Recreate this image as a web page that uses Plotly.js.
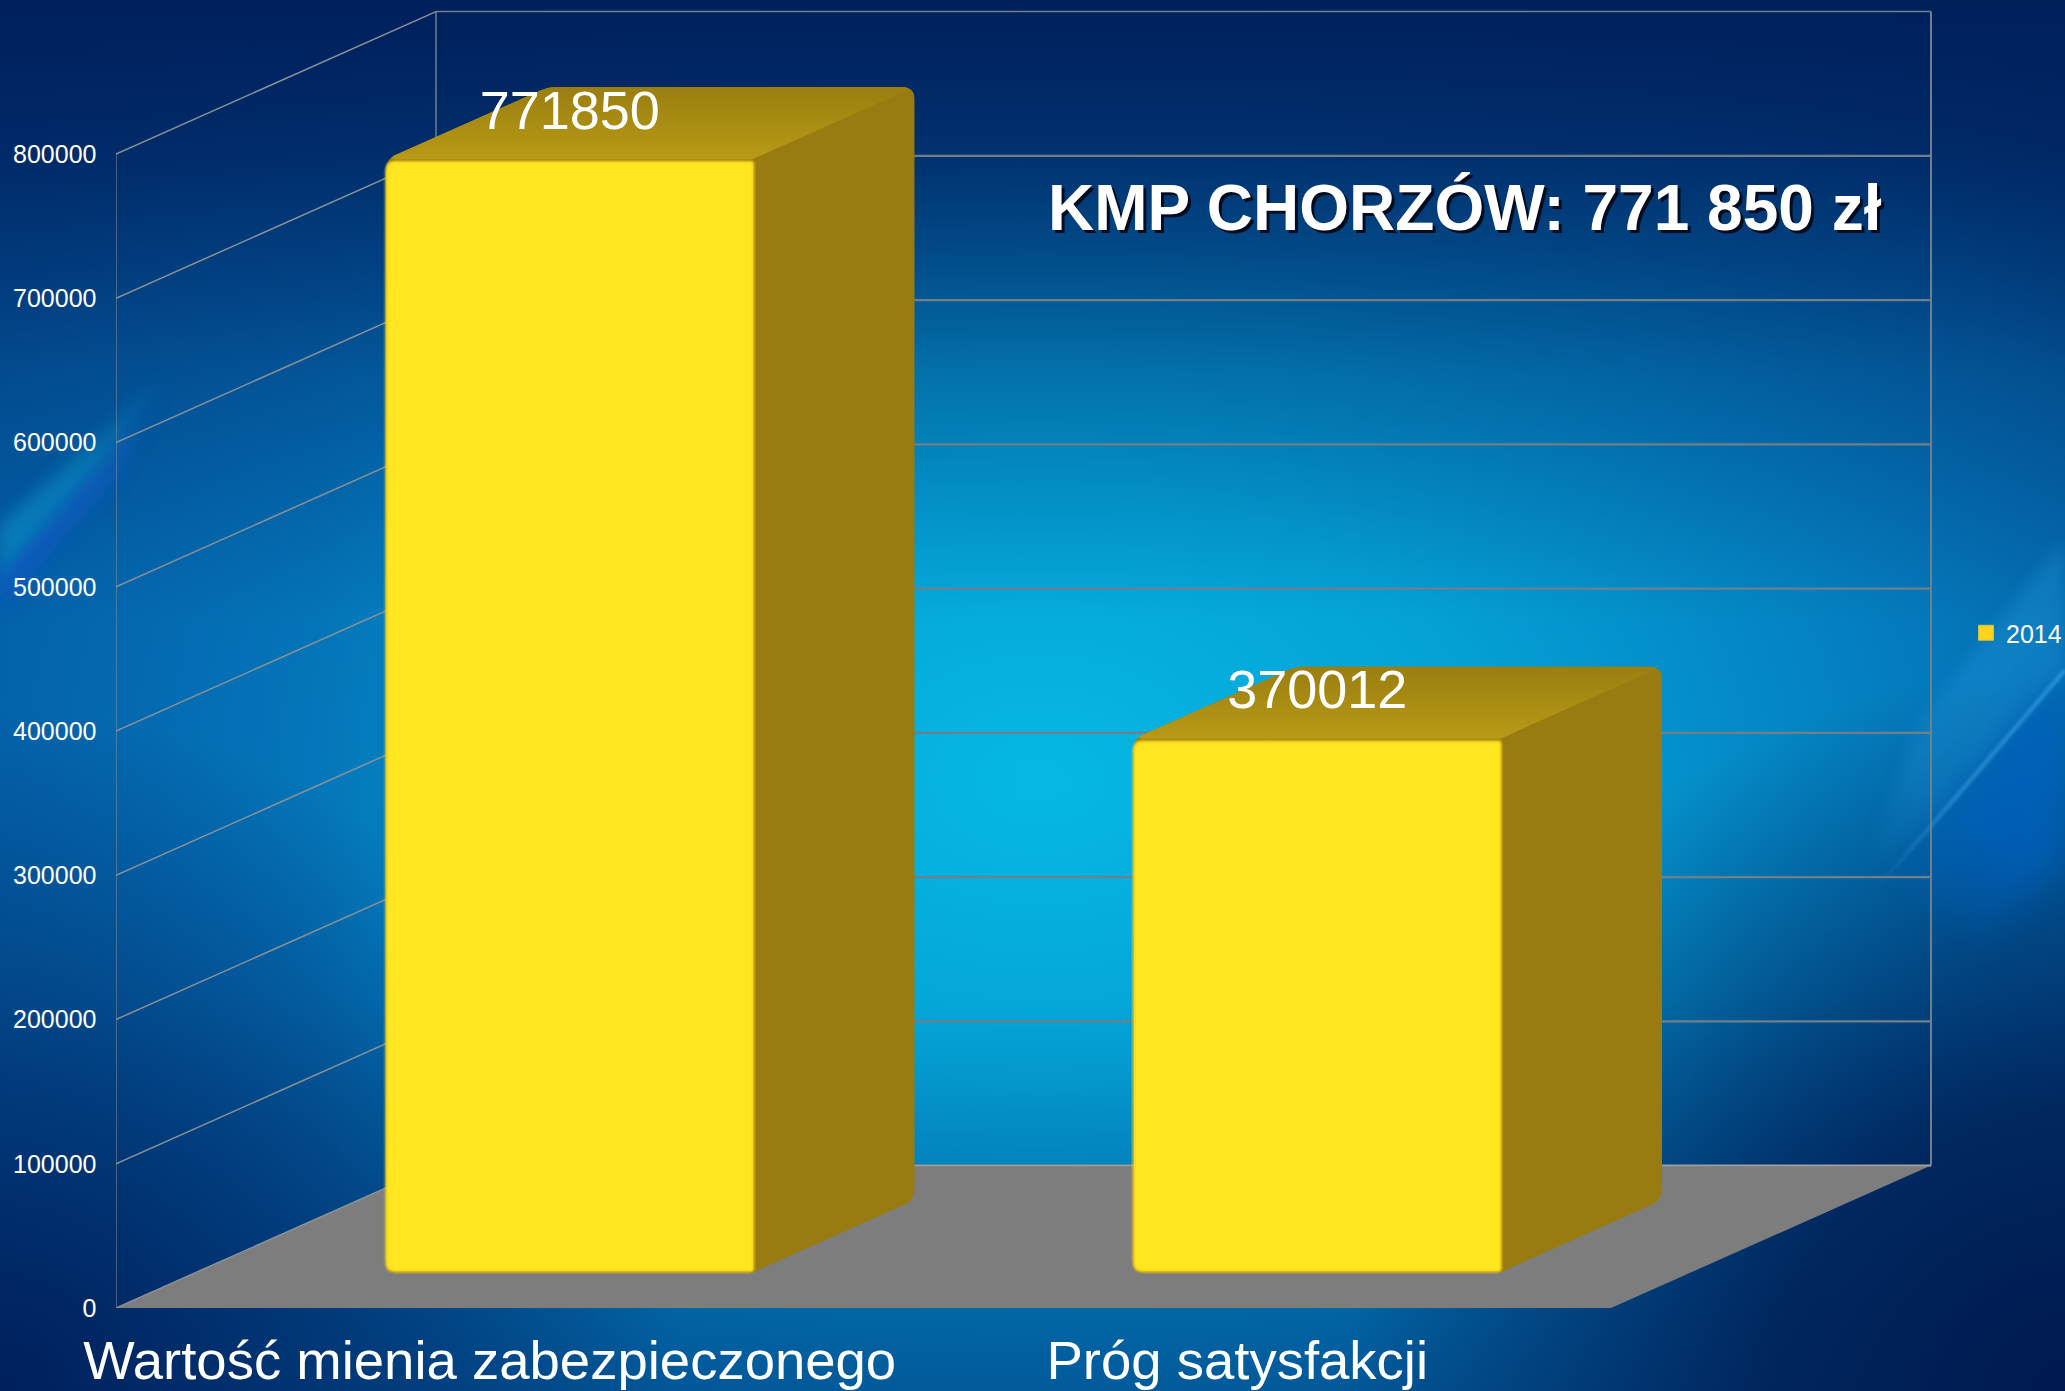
<!DOCTYPE html>
<html>
<head>
<meta charset="utf-8">
<script src="https://cdn.plot.ly/plotly-3.0.1.min.js"></script>
<style>html,body{margin:0;padding:0;background:#012a66;overflow:hidden}#chart{width:2065px;height:1391px}</style>
</head>
<body>
<div id="chart"></div>
<script>
// ---- data ----
const categories = ['Wartość mienia zabezpieczonego', 'Próg satysfakcji'];
const values = [771850, 370012];
const seriesName = '2014';
const yTicks = [0, 100000, 200000, 300000, 400000, 500000, 600000, 700000, 800000];
const titleText = 'KMP CHORZÓW: 771 850 zł';

// ---- oblique 3D look: depth 0 is the front of the floor, depth 1 the back wall ----
const W = 2065, H = 1391, L = 116, BOTTOM = 1308;
const pxPerCat = 747.5, pxPerVal = 1154 / 800000;
const depthCat = 320 / pxPerCat, depthVal = 142.4 / pxPerVal;
const barWidth = 0.49, barFront = 0.25, barBack = 0.755;
const GRID_BACK = '#6f808a', GRID_SIDE = '#8b9296', FLOOR = '#7d7d7d';
const project = (cat, val, d) => [cat + d * depthCat, val + d * depthVal];

function rounded(pts, radii) {           // rounds polygon corners, radius in pixels
  const xs = [], ys = [];
  const n = pts.length;
  const p = pts.map(q => [q[0] * pxPerCat, q[1] * pxPerVal]);
  for (let i = 0; i < n; i++) {
    const a = p[(i + n - 1) % n], b = p[i], c = p[(i + 1) % n], r = radii[i];
    if (!r) { xs.push(b[0]); ys.push(b[1]); continue; }
    const la = Math.hypot(a[0] - b[0], a[1] - b[1]), lc = Math.hypot(c[0] - b[0], c[1] - b[1]);
    const s = [b[0] + (a[0] - b[0]) * r / la, b[1] + (a[1] - b[1]) * r / la];
    const e = [b[0] + (c[0] - b[0]) * r / lc, b[1] + (c[1] - b[1]) * r / lc];
    for (let t = 0; t <= 1.0001; t += 0.2) {
      xs.push((1 - t) * (1 - t) * s[0] + 2 * t * (1 - t) * b[0] + t * t * e[0]);
      ys.push((1 - t) * (1 - t) * s[1] + 2 * t * (1 - t) * b[1] + t * t * e[1]);
    }
  }
  xs.push(xs[0]); ys.push(ys[0]);
  return { x: xs.map(v => v / pxPerCat), y: ys.map(v => v / pxPerVal) };
}
const base = { hoverinfo: 'skip', showlegend: false };
const line = (pts, width, color) => Object.assign({}, base, {
  type: 'scatter', mode: 'lines', x: pts.map(p => p[0]), y: pts.map(p => p[1]),
  line: { color: color, width: width }
});
const face = (poly, fill, extra) => Object.assign({}, base, {
  type: 'scatter', mode: 'lines', x: poly.x, y: poly.y, fill: 'toself', fillcolor: fill,
  line: { width: 0, color: fill }
}, extra || {});

const nCat = categories.length, topTick = yTicks[yTicks.length - 1];
const traces = [];

// back wall
yTicks.forEach(v => traces.push(line([project(0, v, 1), project(nCat, v, 1)], v === topTick ? 1.5 : 2.2, GRID_BACK)));
traces.push(line([project(0, 0, 1), project(0, topTick, 1)], 1.5, GRID_BACK));
traces.push(line([project(nCat, 0, 1), project(nCat, topTick, 1)], 2, GRID_BACK));
// floor
traces.push(face({ x: [0, nCat, nCat + depthCat, depthCat, 0], y: [0, 0, depthVal, depthVal, 0] }, FLOOR));
traces.push(line([project(0, 0, 1), project(nCat, 0, 1)], 1.5, '#a0a0a0'));
// side wall
yTicks.forEach(v => traces.push(line([project(0, v, 0), project(0, v, 1)], 1.5, GRID_SIDE)));
traces.push(line([project(0, 0, 0), project(0, topTick, 0)], 1, GRID_SIDE));

// legend entry and marker of the series
traces.push({
  type: 'scatter', mode: 'markers', name: seriesName, showlegend: true, hoverinfo: 'skip',
  x: categories.map((c, i) => project(i + 0.5, 0, barFront)[0]),
  y: values.map(v => project(0, v / 2, barFront)[1]),
  marker: { symbol: 'square', size: 15, color: '#FFD21E', line: { width: 1, color: '#c9c24a' } }
});

// bars
const insetTop = 3 / pxPerVal, insetBottom = 1.5 / pxPerVal;
values.forEach((v, i) => {
  const l = i + 0.5 - barWidth / 2, r = i + 0.5 + barWidth / 2;
  const P = project;
  const shell = rounded([P(l, 0, barFront), P(r, 0, barFront), P(r, 0, barBack), P(r, v, barBack), P(l, v, barBack), P(l, v, barFront)],
    [9, 0, 12, 12, 8, 9]);
  traces.push(face(shell, '#987c11'));
  const top = rounded([P(l, v, barFront), P(r, v, barFront), P(r, v, barBack), P(l, v, barBack)], [9, 0, 14, 8]);
  traces.push(face(top, '#a88c14', {
    fillgradient: { type: 'vertical', colorscale: [[0, '#b89a16'], [1, '#9a7e10']] }
  }));
  const front = rounded([P(l, insetBottom, barFront), P(r, insetBottom, barFront), P(r, v - insetTop, barFront), P(l, v - insetTop, barFront)], [9, 3, 3, 9]);
  traces.push(Object.assign(face(front, '#FFE620'), { line: { width: 6, color: 'rgba(225,190,28,0.3)' } }));
  traces.push(Object.assign(face(front, '#FFE620'), { line: { width: 3, color: 'rgba(240,212,30,0.6)' } }));
});

// value labels
const labelLift = 17 / pxPerVal;
traces.push(Object.assign({}, base, {
  type: 'scatter', mode: 'text',
  x: values.map((v, i) => project(i + 0.5, v, barFront)[0]),
  y: values.map(v => project(0, v + labelLift, barFront)[1]),
  text: values.map(String), textposition: 'top center', cliponaxis: false,
  textfont: { family: 'Liberation Sans', size: 54, color: '#ffffff' }
}));

const svg = `<svg xmlns="http://www.w3.org/2000/svg" width="${W}" height="${H}" viewBox="0 0 ${W} ${H}">
<defs>
<radialGradient id="g" gradientUnits="userSpaceOnUse" cx="0" cy="0" r="1" gradientTransform="translate(1040 780) scale(1450 1000)">
<stop offset="0" stop-color="#06b8e4"/><stop offset="0.3" stop-color="#04a2d6"/><stop offset="0.6" stop-color="#047cbe"/>
<stop offset="0.8" stop-color="#0464a8"/><stop offset="1" stop-color="#023f80"/>
</radialGradient>
<linearGradient id="t" gradientUnits="userSpaceOnUse" x1="0" y1="0" x2="0" y2="620">
<stop offset="0" stop-color="#00205c" stop-opacity="1"/><stop offset="0.25" stop-color="#00205c" stop-opacity="0.8"/>
<stop offset="0.6" stop-color="#00205c" stop-opacity="0.3"/><stop offset="1" stop-color="#00205c" stop-opacity="0"/>
</linearGradient>
<linearGradient id="u" gradientUnits="userSpaceOnUse" x1="0" y1="1000" x2="0" y2="1391">
<stop offset="0" stop-color="#003a78" stop-opacity="0"/><stop offset="1" stop-color="#003a78" stop-opacity="0.5"/>
</linearGradient>
<linearGradient id="lft" gradientUnits="userSpaceOnUse" x1="0" y1="0" x2="640" y2="0">
<stop offset="0" stop-color="#045aa6" stop-opacity="0.55"/><stop offset="0.5" stop-color="#045aa6" stop-opacity="0.4"/><stop offset="1" stop-color="#045aa6" stop-opacity="0"/>
</linearGradient>
<radialGradient id="bl" gradientUnits="userSpaceOnUse" cx="0" cy="1391" r="680">
<stop offset="0" stop-color="#00205c" stop-opacity="1"/><stop offset="1" stop-color="#00205c" stop-opacity="0"/>
</radialGradient>
<radialGradient id="br" gradientUnits="userSpaceOnUse" cx="2065" cy="1391" r="720">
<stop offset="0" stop-color="#001a50" stop-opacity="1"/><stop offset="0.4" stop-color="#001a50" stop-opacity="0.8"/><stop offset="1" stop-color="#001a50" stop-opacity="0"/>
</radialGradient>
<linearGradient id="s1" gradientUnits="userSpaceOnUse" x1="0" y1="600" x2="170" y2="370">
<stop offset="0" stop-opacity="1" stop-color="#fff"/><stop offset="0.55" stop-opacity="0.8" stop-color="#fff"/><stop offset="1" stop-opacity="0" stop-color="#fff"/>
</linearGradient>
<mask id="m1"><rect width="${W}" height="${H}" fill="url(#s1)"/></mask>
<linearGradient id="s2" gradientUnits="userSpaceOnUse" x1="2065" y1="670" x2="1880" y2="890">
<stop offset="0" stop-opacity="1" stop-color="#fff"/><stop offset="0.6" stop-opacity="0.8" stop-color="#fff"/><stop offset="1" stop-opacity="0" stop-color="#fff"/>
</linearGradient>
<mask id="m2"><rect width="${W}" height="${H}" fill="url(#s2)"/></mask>
<filter id="b1" x="-30%" y="-30%" width="160%" height="160%"><feGaussianBlur stdDeviation="8"/></filter>
<filter id="b2" x="-30%" y="-30%" width="160%" height="160%"><feGaussianBlur stdDeviation="1.5"/></filter>
<filter id="b3" x="-30%" y="-30%" width="160%" height="160%"><feGaussianBlur stdDeviation="18"/></filter>
</defs>
<rect width="${W}" height="${H}" fill="url(#g)"/>
<rect width="${W}" height="${H}" fill="url(#lft)"/>
<rect width="${W}" height="${H}" fill="url(#t)"/>
<rect width="${W}" height="${H}" fill="url(#u)"/>
<rect width="${W}" height="${H}" fill="url(#bl)"/>
<rect width="${W}" height="${H}" fill="url(#br)"/>
<g mask="url(#m1)">
<polygon points="0,525 110,425 175,360 115,460 0,585" fill="#0e9ccc" opacity="0.55" filter="url(#b1)"/>
<polygon points="0,575 115,450 170,375 120,475 0,612" fill="#0a58c0" opacity="0.85" filter="url(#b1)"/>
</g>
<g mask="url(#m2)">
<polygon points="${W},540 1920,720 1860,880 1931,826 ${W},670" fill="#2a9ee4" opacity="0.3" filter="url(#b1)"/>
<polygon points="${W},672 1931,830 1880,890 1960,960 ${W},860" fill="#0560c0" opacity="0.85" filter="url(#b3)"/>
<polyline points="${W},670 1931,826 1870,895" fill="none" stroke="#3aa0ea" stroke-width="4" opacity="0.7" filter="url(#b2)"/>
</g>
</svg>`;

const plotW = W - L, plotH = BOTTOM;
const layout = {
  width: W, height: H, showlegend: true,
  margin: { l: L, r: 0, t: 0, b: H - BOTTOM, pad: 0, autoexpand: false },
  paper_bgcolor: 'rgba(0,0,0,0)', plot_bgcolor: 'rgba(0,0,0,0)',
  xaxis: {
    range: [0, plotW / pxPerCat], showgrid: false, zeroline: false, showline: false,
    tickmode: 'array', tickvals: categories.map((c, i) => i + 0.5), ticktext: categories,
    ticks: 'outside', ticklen: 5, tickcolor: 'rgba(0,0,0,0)', tickangle: 0,
    tickfont: { family: 'Liberation Sans', size: 54.5, color: '#ffffff' }
  },
  yaxis: {
    range: [0, plotH / pxPerVal], showgrid: false, zeroline: false, showline: false,
    tickmode: 'array', tickvals: yTicks, ticktext: yTicks.map(String),
    ticks: 'outside', ticklen: 13.5, tickcolor: 'rgba(0,0,0,0)',
    tickfont: { family: 'Liberation Sans', size: 25, color: '#ffffff' }
  },
  legend: {
    x: (1966 - L) / plotW, xanchor: 'left', y: 1 - 633 / plotH, yanchor: 'middle',
    bgcolor: 'rgba(0,0,0,0)', borderwidth: 0,
    font: { family: 'Liberation Sans', size: 25, color: '#ffffff' }
  },
  images: [{
    source: 'data:image/svg+xml;charset=utf-8,' + encodeURIComponent(svg),
    xref: 'paper', yref: 'paper', x: -L / plotW, y: 1, xanchor: 'left', yanchor: 'top',
    sizex: W / plotW, sizey: H / plotH, sizing: 'stretch', layer: 'below'
  }],
  annotations: [{
    text: titleText, xref: 'paper', yref: 'paper', showarrow: false,
    x: (1465 - L) / plotW, y: 1 - 208 / plotH, xanchor: 'center', yanchor: 'middle',
    font: { family: 'Liberation Sans', size: 64, color: '#ffffff', weight: 700, shadow: '3px 3px 0 #020c1e' }
  }]
};
Plotly.newPlot('chart', traces, layout, { displayModeBar: false, staticPlot: true });
</script>
</body>
</html>
